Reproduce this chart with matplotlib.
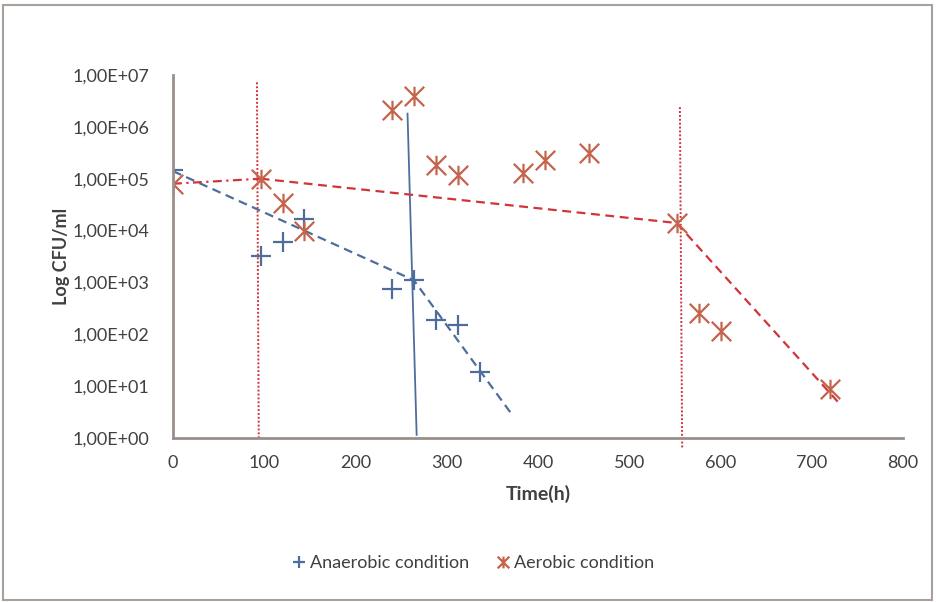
import math
import matplotlib
matplotlib.use("Agg")
import matplotlib.pyplot as plt
from matplotlib.path import Path
from matplotlib.ticker import FixedLocator, FuncFormatter
from matplotlib.patches import Rectangle

plt.rcParams['font.family'] = ['Lato', 'DejaVu Sans']

# Anaerobic counts (CFU/ml) over time (h)
anaer_t = [0, 96, 120, 144, 240, 264, 288, 312, 336]
anaer_cfu = [1.5e5, 3.2e3, 6.0e3, 1.7e4, 7.5e2, 1.1e3, 1.9e2, 1.5e2, 19]

# Aerobic counts (CFU/ml) over time (h)
aer_t = [0, 96, 120, 144, 240, 264, 288, 312, 384, 408, 456, 552, 576, 600, 720]
aer_cfu = [8.0e4, 1.0e5, 3.4e4, 1.0e4, 2.1e6, 3.9e6, 1.8e5, 1.2e5, 1.3e5, 2.3e5,
           3.1e5, 1.4e4, 2.6e2, 1.15e2, 9]

# Trend lines
anaer_trend_t = [0, 264, 373]
anaer_trend_cfu = [1.4e5, 1.1e3, 2.6]
anaer_drop_t = [257, 267]
anaer_drop_cfu = [1.8e6, 1.15]
aer_lag_t = [0, 96]
aer_lag_cfu = [8.0e4, 1.0e5]
aer_trend_t = [96, 552, 729]
aer_trend_cfu = [1.0e5, 1.4e4, 4.9]

# Phase boundaries
phase1_t = [92, 94]
phase1_cfu = [7.2e6, 0.91]
phase2_t = [555.5, 558]
phase2_cfu = [2.4e6, 0.64]

x_ticks = [0, 100, 200, 300, 400, 500, 600, 700, 800]
y_ticks = [1e0, 1e1, 1e2, 1e3, 1e4, 1e5, 1e6, 1e7]

BLUE = '#4d6e9c'
RED_MK = '#c4644c'
RED_LN = '#d0353a'
SPINE = '#9b8f8b'
TEXT = '#404040'
FS = 13

fig = plt.figure(figsize=(9.36, 6.02), dpi=100)
fig.patches.append(Rectangle((2.5 / 936, 1 - 600 / 602), 929.5 / 936, 595 / 602,
                             transform=fig.transFigure, fill=False,
                             edgecolor='#a8a09c', linewidth=1.5))
ax = fig.add_axes([173 / 936, 1 - 438 / 602, 730 / 936, 363 / 602])
ax.set_yscale('log')
ax.set_xlim(0, 800)
ax.set_ylim(1, 1e7)

star = Path([(0, -1), (0, 1), (-1, -1), (1, 1), (-1, 1), (1, -1)],
            [Path.MOVETO, Path.LINETO, Path.MOVETO, Path.LINETO, Path.MOVETO, Path.LINETO])

# Phase boundaries (dotted)
ax.plot(phase1_t, phase1_cfu, color=RED_LN, ls=(0, (1, 1)), lw=1.4, clip_on=False)
ax.plot(phase2_t, phase2_cfu, color=RED_LN, ls=(0, (1, 1)), lw=1.4, clip_on=False)

# Trend lines
ax.plot(anaer_trend_t, anaer_trend_cfu, color=BLUE, ls=(0, (4, 2.5)), lw=1.6)
ax.plot(anaer_drop_t, anaer_drop_cfu, color=BLUE, ls='-', lw=1.3)
ax.plot(aer_lag_t, aer_lag_cfu, color=RED_LN, ls=(0, (4, 2, 1, 2)), lw=1.6)
ax.plot(aer_trend_t, aer_trend_cfu, color=RED_LN, ls=(0, (4, 2.5)), lw=1.6)

# Data points
ax.plot(anaer_t, anaer_cfu, ls='none', marker='+', ms=15, mew=1.6, color=BLUE,
        label='Anaerobic condition')
ax.plot(aer_t, aer_cfu, ls='none', marker=star, ms=14, mew=1.6, mfc='none', color=RED_MK,
        label='Aerobic condition')

for s in ('top', 'right'):
    ax.spines[s].set_visible(False)
for s in ('left', 'bottom'):
    ax.spines[s].set_color(SPINE)
    ax.spines[s].set_linewidth(2)

ax.xaxis.set_major_locator(FixedLocator(x_ticks))
ax.yaxis.set_major_locator(FixedLocator(y_ticks))
ax.yaxis.set_minor_locator(FixedLocator([]))
ax.yaxis.set_major_formatter(FuncFormatter(
    lambda v, p: '1,00E+{:02d}'.format(int(round(math.log10(v))))))
ax.tick_params(axis='both', length=0, labelsize=FS, colors=TEXT)
ax.tick_params(axis='y', pad=17)
ax.tick_params(axis='x', pad=12)

ax.set_xlabel('Time(h)', fontsize=FS + 1, fontweight='bold', color=TEXT, labelpad=10)
ax.set_ylabel('Log CFU/ml', fontsize=FS, fontweight='bold', color=TEXT, labelpad=2)

leg = fig.legend(loc='center', bbox_to_anchor=(474 / 936, 1 - 563 / 602), ncol=2,
                 frameon=False, fontsize=FS, markerscale=0.6, handlelength=0.6,
                 handletextpad=0.3, columnspacing=1.6, labelcolor=TEXT)

fig.savefig('out.png', dpi=100, facecolor='white')
